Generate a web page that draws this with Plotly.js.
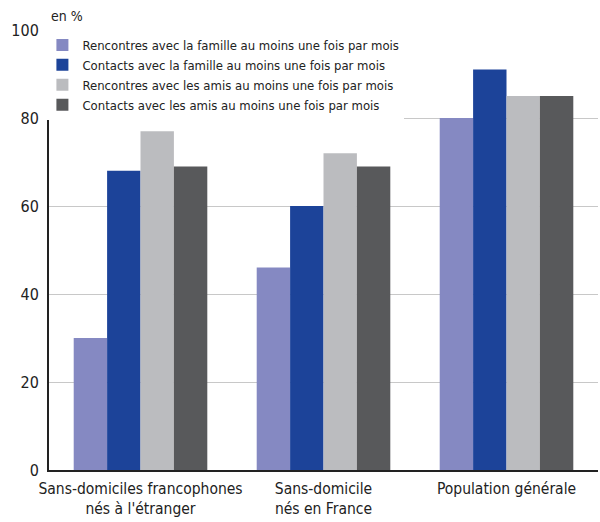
<!DOCTYPE html>
<html><head><meta charset="utf-8">
<script src="https://cdn.plot.ly/plotly-3.0.1.min.js"></script>
<style>body{margin:0;background:#fff}#chart{width:600px;height:522px}</style>
</head><body><div id="chart"></div>
<script>
const categories = ["Sans-domiciles francophones<br>nés à l'étranger", "Sans-domicile<br>nés en France", "Population générale"];
const seriesNames = [
  "Rencontres avec la famille au moins une fois par mois",
  "Contacts avec la famille au moins une fois par mois",
  "Rencontres avec les amis au moins une fois par mois",
  "Contacts avec les amis au moins une fois par mois"
];
const rencontresFamille = [30, 46, 80];
const contactsFamille = [68, 60, 91];
const rencontresAmis = [77, 72, 85];
const contactsAmis = [69, 69, 85];
const colors = ["#8589c2", "#1c4399", "#bbbcbf", "#58595b"];
const values = [rencontresFamille, contactsFamille, rencontresAmis, contactsAmis];
const font = "'DejaVu Sans Condensed', 'Liberation Sans Narrow', 'Liberation Sans', Arial, sans-serif";
const traces = values.map((v, i) => ({
  type: "bar", x: categories, y: v, name: seriesNames[i],
  marker: {color: colors[i], line: {width: 0}}, hoverinfo: "none"
}));
const layout = {
  width: 600, height: 522,
  margin: {l: 49, r: 2, t: 30, b: 52},
  paper_bgcolor: "#fff", plot_bgcolor: "#fff",
  barmode: "group", bargap: 0.27, bargroupgap: 0,
  font: {family: font, color: "#222", size: 15},
  xaxis: {showline: true, linecolor: "#222", linewidth: 2, ticks: "", tickfont: {size: 15.5},
          ticklabelstandoff: 3, fixedrange: true},
  yaxis: {range: [0, 100], tickvals: [0, 20, 40, 60, 80, 100], showgrid: true, gridcolor: "#c8c8c8", gridwidth: 1,
          showline: true, linecolor: "#222", linewidth: 2, zeroline: false, ticks: "", ticklen: 0,
          ticklabelstandoff: 5, tickfont: {size: 16}, fixedrange: true},
  legend: {x: -0.012, y: 1.0, xanchor: "left", yanchor: "top", bgcolor: "#fff", font: {size: 13, color: "#222"},
           tracegroupgap: 0, itemwidth: 30},
  showlegend: true,
  annotations: [{text: "en %", xref: "paper", yref: "paper", x: 0, y: 1, xanchor: "left", yanchor: "bottom",
                 yshift: 4, showarrow: false, font: {size: 14, color: "#222"}}]
};
Plotly.newPlot("chart", traces, layout, {displayModeBar: false, staticPlot: true});
</script></body></html>
